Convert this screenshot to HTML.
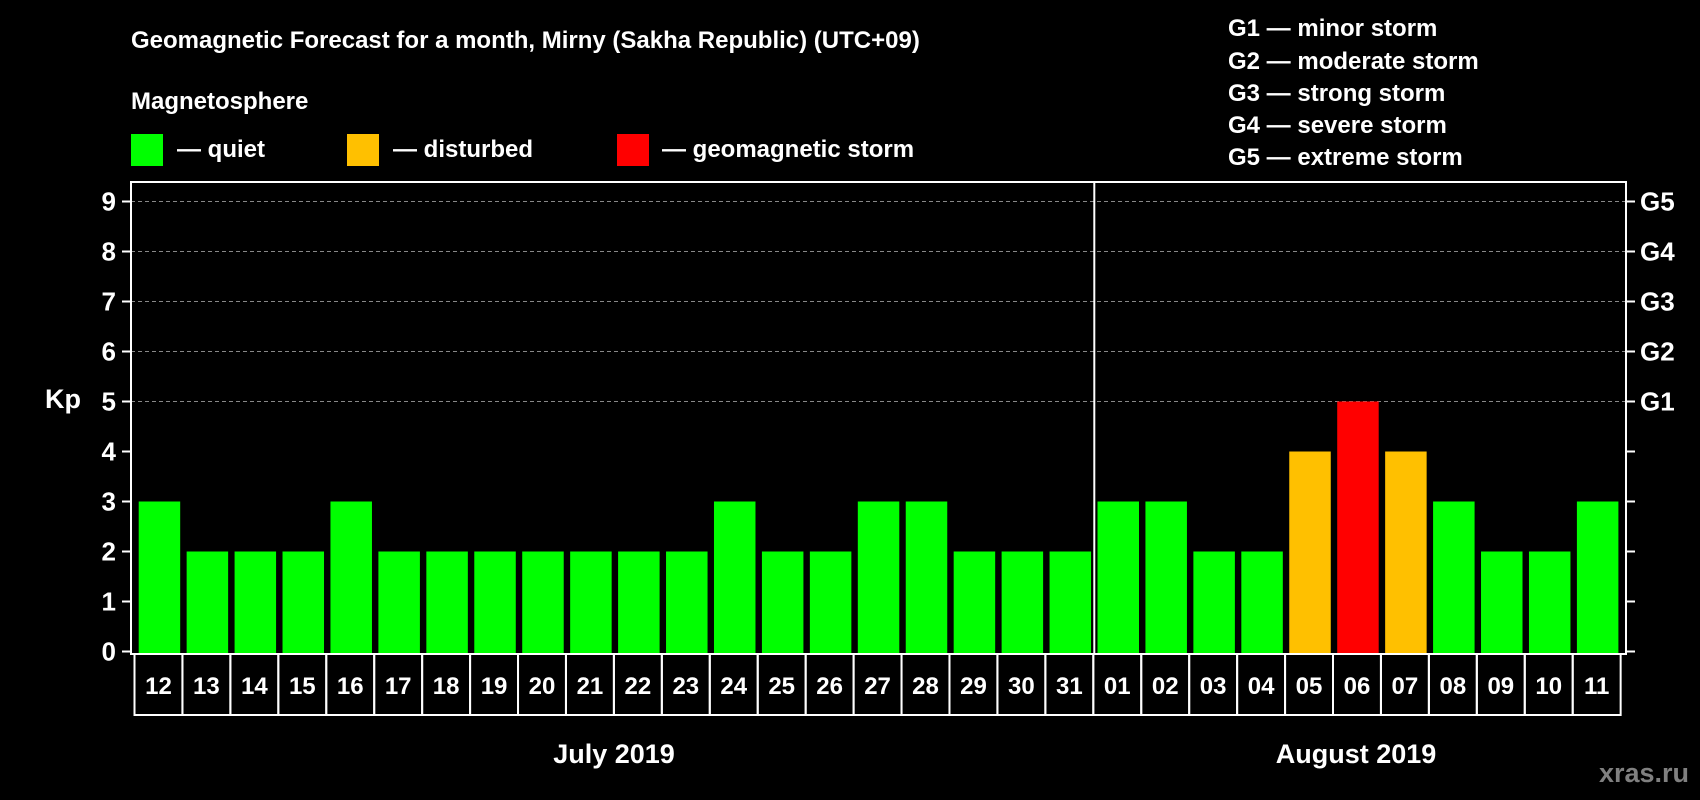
<!DOCTYPE html>
<html><head><meta charset="utf-8"><style>
html,body{margin:0;padding:0;background:#000;}
svg{display:block;font-family:"Liberation Sans",Arial,sans-serif;font-weight:bold;}
</style></head><body>
<svg id="chart" width="1700" height="800" viewBox="0 0 1700 800">
<rect x="0" y="0" width="1700" height="800" fill="#000"/>
<text x="131" y="48" fill="#fff" font-size="24">Geomagnetic Forecast for a month, Mirny (Sakha Republic) (UTC+09)</text>
<text x="131" y="109" fill="#fff" font-size="24">Magnetosphere</text>
<g><rect x="131" y="134" width="32" height="32" fill="#00ff00"/><text x="177" y="157" fill="#fff" font-size="24">— quiet</text></g>
<g><rect x="347" y="134" width="32" height="32" fill="#ffc000"/><text x="393" y="157" fill="#fff" font-size="24">— disturbed</text></g>
<g><rect x="617" y="134" width="32" height="32" fill="#ff0000"/><text x="662" y="157" fill="#fff" font-size="24">— geomagnetic storm</text></g>
<g font-size="24" fill="#fff">
<text x="1228" y="36">G1 — minor storm</text>
<text x="1228" y="69">G2 — moderate storm</text>
<text x="1228" y="101">G3 — strong storm</text>
<text x="1228" y="133">G4 — severe storm</text>
<text x="1228" y="165">G5 — extreme storm</text>
</g>
<text x="63" y="408" fill="#fff" font-size="27" text-anchor="middle">Kp</text>
<text x="614" y="763" fill="#fff" font-size="27" text-anchor="middle">July 2019</text>
<text x="1356" y="763" fill="#fff" font-size="27" text-anchor="middle">August 2019</text>
<text x="1689" y="782" fill="#808080" font-size="27" text-anchor="end">xras.ru</text>
<g id="grid"></g><g id="bars"></g><g id="axes"></g>
</svg>
<script>
const days = ["12","13","14","15","16","17","18","19","20","21","22","23","24","25","26","27","28","29","30","31","01","02","03","04","05","06","07","08","09","10","11"];
const kpValues = [3,2,2,2,3,2,2,2,2,2,2,2,3,2,2,3,3,2,2,2,3,3,2,2,4,5,4,3,2,2,3];
const yTicks = [0,1,2,3,4,5,6,7,8,9];
const gLabels = ["","","","","","G1","G2","G3","G4","G5"];
const NS="http://www.w3.org/2000/svg";
const L=131,R=1626,T=182,B=654;
const x0=138.7,pitch=47.94,bw=41.5;
function y(v){return 651.5-50*v;}
function xb(i){return x0+pitch*i;}
function mk(tag,attrs,parent,txt){const e=document.createElementNS(NS,tag);for(const k in attrs)e.setAttribute(k,attrs[k]);if(txt!==undefined)e.textContent=txt;parent.appendChild(e);return e;}
const grid=document.getElementById('grid'),bars=document.getElementById('bars'),axes=document.getElementById('axes');
yTicks.forEach((t,i)=>{
  if(t>=5){const g=mk('line',{x1:L,x2:R,y1:y(t),y2:y(t),stroke:'#888','stroke-width':1,'stroke-dasharray':'4,3'},grid);
  
  }
  const tl=mk('line',{x1:L-9,x2:L,y1:y(t),y2:y(t),stroke:'#fff','stroke-width':2},axes);
  
  
  const tr=mk('line',{x1:R,x2:R+9,y1:y(t),y2:y(t),stroke:'#fff','stroke-width':2},axes);
  
  
  const lb=mk('text',{x:116,y:y(t)+9,fill:'#fff','font-size':26,'text-anchor':'end'},axes,String(t));
  
  
  if(gLabels[i]){const gl=mk('text',{x:1640,y:y(t)+9,fill:'#fff','font-size':26},axes,gLabels[i]);
  
  }
});
kpValues.forEach((v,i)=>{
  const c=v>=5?'#ff0000':(v>=4?'#ffc000':'#00ff00');
  const r=mk('rect',{x:xb(i),y:y(v),width:bw,height:y(0)-y(v)+2.5,fill:c},bars);
  
  
});
const frame=mk('rect',{x:L,y:T,width:R-L,height:B-T,fill:'none',stroke:'#fff','stroke-width':2},axes);


const sepIdx=days.indexOf("01");
const sx=xb(sepIdx)-3.2;
const sep=mk('line',{x1:sx,x2:sx,y1:T,y2:B,stroke:'#fff','stroke-width':2},axes);


const bx0=134.5,bot=715;
days.forEach((d,i)=>{
  const bxl=bx0+pitch*i;
  const box=mk('rect',{x:bxl,y:B,width:pitch,height:bot-B,fill:'none',stroke:'#fff','stroke-width':2},axes);
  
  
  const t=mk('text',{x:bxl+pitch/2,y:B+40,fill:'#fff','font-size':24,'text-anchor':'middle'},axes,d);
  
  
});
</script>
</body></html>
